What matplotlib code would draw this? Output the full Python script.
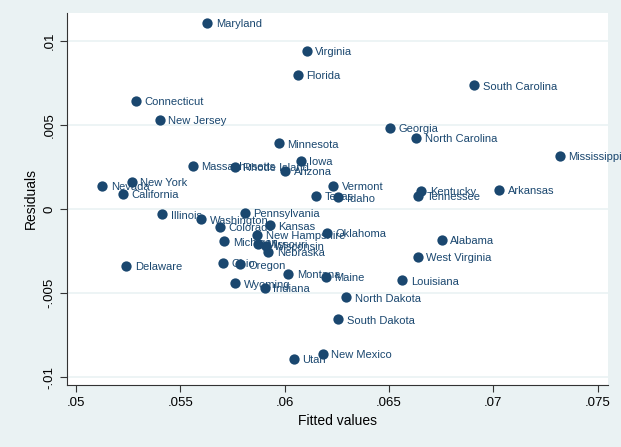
import matplotlib
matplotlib.use("Agg")
import matplotlib.pyplot as plt

plt.rcParams['font.family'] = ['Liberation Sans', 'DejaVu Sans']

states = ["Maryland", "Virginia", "Florida", "Connecticut", "New Jersey",
          "Minnesota", "Iowa", "Massachusetts", "Rhode Island", "Arizona",
          "Nevada", "New York", "California", "Vermont", "Texas", "Idaho",
          "South Carolina", "Georgia", "North Carolina", "Mississippi",
          "Kentucky", "Tennessee", "Arkansas", "Illinois", "Washington",
          "Pennsylvania", "Colorado", "Kansas", "New Hampshire", "Oklahoma",
          "Michigan", "Missouri", "Wisconsin", "Nebraska", "Delaware", "Ohio",
          "Oregon", "Montana", "Maine", "Wyoming", "Indiana", "North Dakota",
          "South Dakota", "Utah", "New Mexico", "Alabama", "West Virginia",
          "Louisiana"]

fitted = [.0563, .06107, .06062, .05286, .05403,
          .05973, .06078, .05561, .05762, .06003,
          .05126, .05269, .05225, .06234, .06152, .06258,
          .06909, .06504, .06632, .07321,
          .06656, .0664, .0703, .05413, .056,
          .0581, .05689, .05928, .05869, .06204,
          .05711, .05872, .05909, .05922, .05241, .05703,
          .05786, .06018, .06196, .05764, .05906, .06295,
          .06258, .06043, .06183, .06753, .0664,
          .06565]

resid = [.01105, .0094, .00798, .00643, .0053,
         .00389, .00286, .00258, .00252, .00228,
         .00137, .00163, .00091, .00137, .00079, .0007,
         .00734, .00482, .00424, .00314,
         .00107, .00079, .00115, -.00032, -.00061,
         -.00024, -.00105, -.00097, -.00153, -.00143,
         -.00192, -.00206, -.0022, -.00256, -.00339, -.00321,
         -.00329, -.00387, -.00405, -.00442, -.0047, -.00526,
         -.00657, -.00891, -.00863, -.00183, -.00286,
         -.00425]

xticks = [.05, .055, .06, .065, .07, .075]
xticklabels = [".05", ".055", ".06", ".065", ".07", ".075"]
yticks = [-.01, -.005, 0, .005, .01]
yticklabels = ["-.01", "-.005", "0", ".005", ".01"]

navy = "#1a476f"
bg = "#eaf2f3"

fig = plt.figure(figsize=(6.21, 4.47), dpi=100, facecolor=bg)
ax = fig.add_axes([0.108, 0.139, 0.871, 0.832])
ax.set_facecolor("white")

ax.scatter(fitted, resid, s=55, color=navy, zorder=3, linewidths=0)
for name, x, y in zip(states, fitted, resid):
    ax.annotate(name, (x, y), xytext=(6, -1), textcoords="offset points",
                va="center", ha="left", fontsize=8, color=navy, zorder=4)

ax.set_xlim(.04957, .0755)
ax.set_ylim(-.01046, .01165)

ax.set_xticks(xticks)
ax.set_xticklabels(xticklabels, fontsize=9.5)
ax.set_yticks(yticks)
ax.set_yticklabels(yticklabels, fontsize=9.5, rotation=90, va="center")
ax.tick_params(axis="both", direction="out", length=5, width=0.8, color="#333333")
ax.grid(axis="y", color=bg, linewidth=1.2)
ax.set_axisbelow(True)

for side in ["top", "right"]:
    ax.spines[side].set_visible(False)
for side in ["left", "bottom"]:
    ax.spines[side].set_color("#333333")
    ax.spines[side].set_linewidth(0.8)

ax.set_xlabel("Fitted values", fontsize=10)
ax.set_ylabel("Residuals", fontsize=10)

fig.savefig("out.png", dpi=100, facecolor=bg)
